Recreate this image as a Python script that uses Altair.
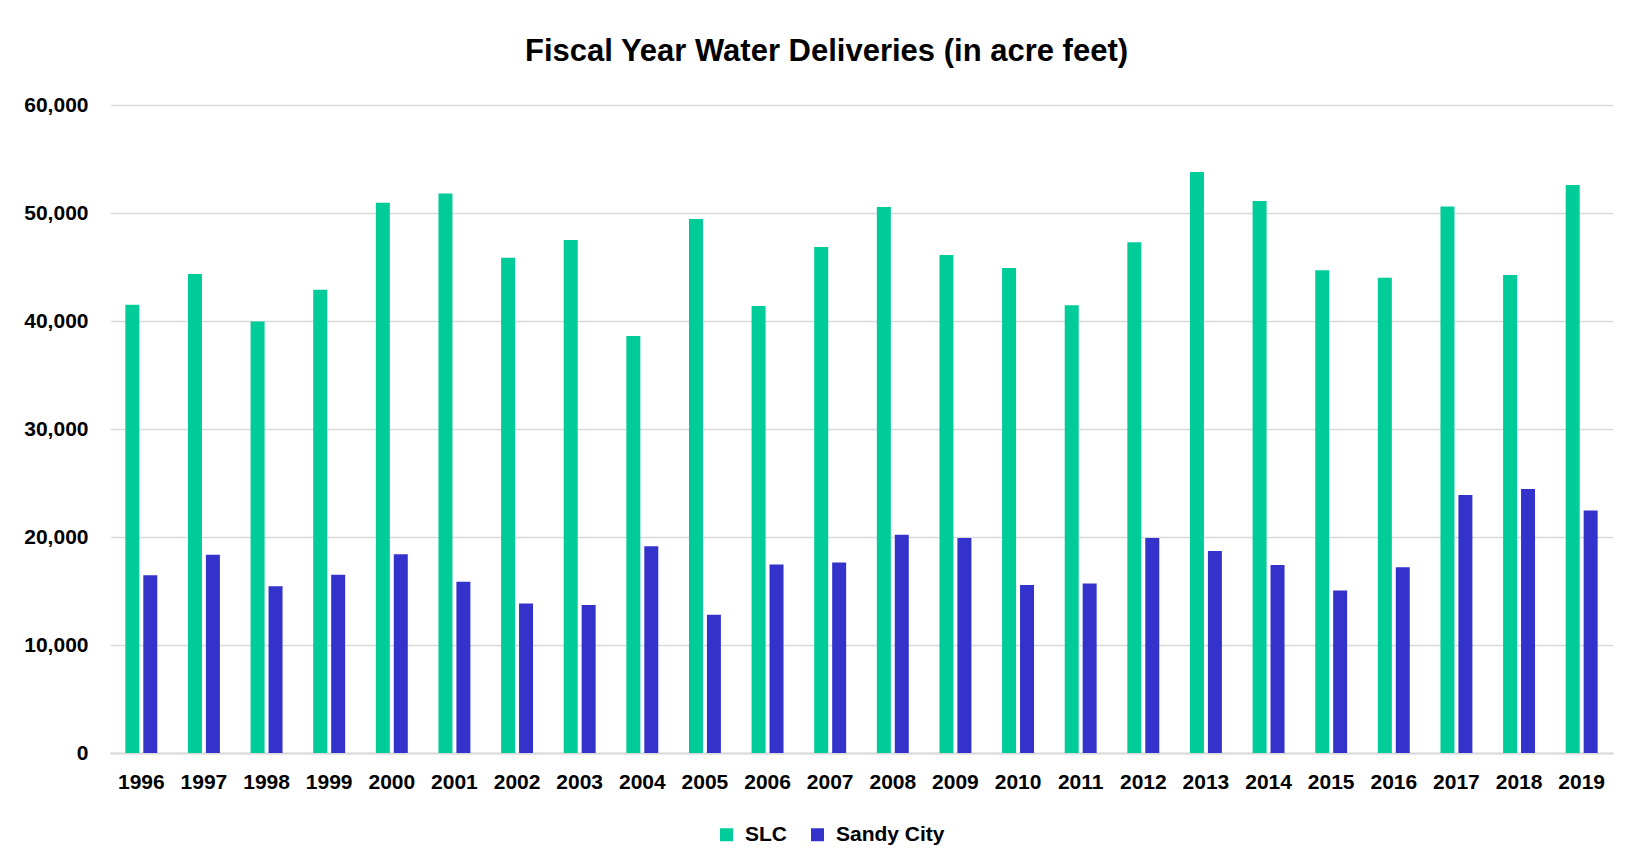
import altair as alt
import pandas as pd

years = [str(y) for y in range(1996, 2020)]
slc = [41500, 44350, 39950, 42900, 50950, 51800, 45850, 47500, 38600, 49450,
       41400, 46850, 50550, 46100, 44900, 41450, 47300, 53800, 51100, 44700,
       44000, 50600, 44250, 52600]
sandy = [16450, 18350, 15450, 16500, 18400, 15850, 13850, 13700, 19150, 12800,
         17450, 17650, 20200, 19900, 15550, 15700, 19900, 18700, 17400, 15050,
         17200, 23900, 24450, 22450]
series = ["SLC", "Sandy City"]
colors = ["#00CC99", "#3333CC"]

rows = []
for i, y in enumerate(years):
    rows.append({"Year": y, "Series": series[0], "Value": slc[i]})
    rows.append({"Year": y, "Series": series[1], "Value": sandy[i]})
df = pd.DataFrame(rows)

FONT = "Liberation Sans Narrow, Arial Narrow, Liberation Sans, Arial, sans-serif"

chart = alt.Chart(df).mark_bar().encode(
    x=alt.X("Year:N", sort=years, title=None,
            scale=alt.Scale(paddingInner=0.49, paddingOuter=0.245),
            axis=alt.Axis(labelAngle=0, ticks=False, domain=True, domainColor="#d9d9d9",
                          domainWidth=2, labelPadding=18, labelFontSize=21,
                          labelFontWeight="bold", labelColor="#000000", labelFont=FONT,
                          grid=False)),
    xOffset=alt.XOffset("Series:N", sort=series,
                        scale=alt.Scale(paddingInner=0.22, paddingOuter=0)),
    y=alt.Y("Value:Q", title=None,
            scale=alt.Scale(domain=[0, 60000], nice=False),
            axis=alt.Axis(values=[0, 10000, 20000, 30000, 40000, 50000, 60000],
                          format=",.0f", ticks=False, domain=False, grid=True,
                          gridColor="#d9d9d9", gridWidth=1.6, labelPadding=22,
                          labelFontSize=21, labelFontWeight="bold",
                          labelColor="#000000", labelFont=FONT)),
    color=alt.Color("Series:N", sort=series,
                    scale=alt.Scale(domain=series, range=colors),
                    legend=alt.Legend(title=None, orient="none", direction="horizontal",
                                      legendX=606, legendY=719, padding=0,
                                      symbolType="square", symbolSize=169,
                                      symbolStrokeWidth=0, labelFontSize=21,
                                      labelFontWeight="bold", labelColor="#000000",
                                      labelFont=FONT, labelOffset=8,
                                      columnPadding=20)),
).properties(
    width=1503,
    height=648,
    title=alt.Title("Fiscal Year Water Deliveries (in acre feet)", fontSize=31,
                    fontWeight="bold", font=FONT, color="#000000", anchor="middle",
                    dx=-35, offset=26),
    autosize=alt.AutoSizeParams(type="none"),
    padding={"left": 102, "top": 97, "right": 11, "bottom": 105},
).configure_view(stroke=None)

chart.save("out.html", embed_options={"renderer": "svg", "actions": False})
